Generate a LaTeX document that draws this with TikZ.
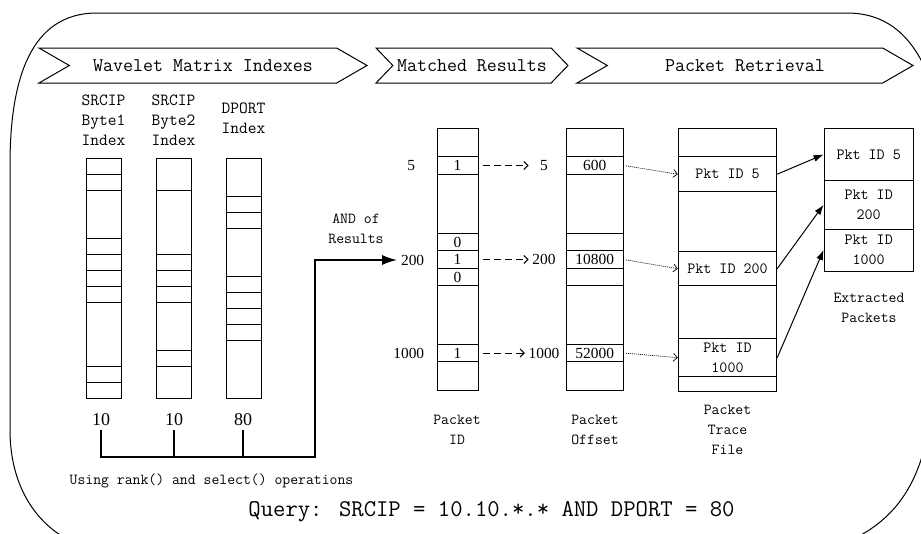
\documentclass[tikz,border=0pt]{standalone}
\usepackage{fontspec}
\setmainfont{Liberation Serif}
\usetikzlibrary{positioning, arrows.meta, shapes.symbols}

\begin{document}
\begin{tikzpicture}[
  x=1pt, y=-1pt, line width=1pt,
  banner/.style={draw, signal, signal from=west, signal to=east, minimum height=35pt,
                 inner sep=0pt, font=\ttfamily\fontsize{19.4}{22}\selectfont},
  hdr/.style={align=center, font=\ttfamily\fontsize{17}{20}\selectfont},
  lbl/.style={align=center, font=\ttfamily\fontsize{15.3}{20}\selectfont},
  val/.style={font=\fontsize{18}{20}\selectfont},
  rnum/.style={font=\fontsize{15.4}{18}\selectfont},
  idx/.style={draw, inner sep=0pt, minimum width=35pt, minimum height=240pt},
  col/.style={draw, inner sep=0pt},
  cell/.style={draw, inner sep=0pt, align=center, font=\fontsize{15.4}{18}\selectfont},
  pkt/.style={cell, font=\ttfamily\fontsize{15.6}{20}\selectfont},
  bus/.style={line width=2pt, -{Latex[length=15pt,width=10pt]}},
  dasharr/.style={dash pattern=on 7pt off 4pt, -{Straight Barb[length=4pt,width=8pt]}},
  dotarr/.style={line width=0.7pt, dash pattern=on 1pt off 1pt, -{Straight Barb[length=4pt,width=8pt]}},
  solarr/.style={line width=1pt, -{Latex[length=10pt,width=7pt]}}
]
\useasboundingbox (0,0) rectangle (921,533);
% outer frame
\begin{scope}
\clip (0,0) rectangle (921,533);
\draw (97,13) -- (847,13) .. controls (890,13) and (915,40) .. (930,80) -- (930,420)
  .. controls (920,490) and (890,525) .. (840,545) -- (80,545)
  .. controls (40,530) and (10,490) .. (10,430) -- (10,165)
  .. controls (10,80) and (30,13) .. (97,13) -- cycle;
\end{scope}

% stage banners
\node[banner, minimum width=328pt, signal pointer angle=60] (wm) at (203,65.5) {Wavelet Matrix Indexes};
\node[banner, minimum width=192pt, signal pointer angle=92] (mr) at (472,65.5) {Matched Results};
\node[banner, minimum width=336pt, signal pointer angle=60] (pr) at (745,65.5) {Packet Retrieval};

% wavelet matrix index columns
\node[hdr] (h1) at (103.5,120) {SRCIP\\Byte1\\Index};
\node[hdr] (h2) at (173.5,120) {SRCIP\\Byte2\\Index};
\node[hdr] (h3) at (243.5,118) {DPORT\\Index};
\node[idx] (c1) at (103.5,278) {};
\node[idx] (c2) at (173.5,278) {};
\node[idx] (c3) at (243.5,278) {};
\foreach \c/\ys in {c1/{174,190,238,254,270,286,302,366,382},
                    c2/{190,254,270,286,302,350,366},
                    c3/{196,212,228,276,292,308,324,340}}{
  \foreach \y in \ys
    \draw (\c.west |- 0,\y) -- (\c.east |- 0,\y);
}
\node[val] (v1) at (101,420) {10};
\node[val] (v2) at (174,420) {10};
\node[val] (v3) at (243,420) {80};

% packet id and offset columns
\node[col, minimum width=41pt, minimum height=262pt] (pid) at (457.5,259) {};
\node[col, minimum width=57.3pt, minimum height=262pt] (poff) at (594.7,259) {};
\foreach \y/\h/\a/\b/\n in {165.5/17.6/1/600/5, 242.3/16.7/0//z1, 259.5/17.6/1/10800/200,
                            277/17.4/0//z2, 353/17.4/1/52000/1000}{
  \node[cell, minimum width=41pt, minimum height=\h pt] (id\n) at (457.5,\y) {\a};
  \node[cell, minimum width=57.3pt, minimum height=\h pt] (off\n) at (594.7,\y) {\b};
}
\node[rnum, anchor=east] (l5) at (419,165.5) {5};
\node[rnum, anchor=east] (l200) at (428,260) {200};
\node[rnum, anchor=east] (l1000) at (428,353) {1000};
\node[rnum, minimum width=30pt] (o5) at (544,165.5) {5};
\node[rnum, minimum width=30pt] (o200) at (544,259.5) {200};
\node[rnum, minimum width=30pt] (o1000) at (544,353) {1000};
\node[lbl] (and) at (356,229) {AND of\\Results};

% packet trace file and extracted packets
\node[col, minimum width=98.4pt, minimum height=262.7pt] (ptf) at (727.5,259.7) {};
\node[pkt, minimum width=98.4pt, minimum height=35pt] (pk5) at (727.5,174.2) {Pkt ID 5};
\node[pkt, minimum width=98.4pt, minimum height=34pt] (pk200) at (727.5,268.7) {Pkt ID 200};
\node[pkt, minimum width=98.4pt, minimum height=38pt] (pk1000) at (727.5,357.7) {Pkt ID\\1000};
\node[pkt, minimum width=89.3pt, minimum height=52.4pt] (e5) at (868.7,154.5) {Pkt ID 5};
\node[pkt, minimum width=89.3pt, minimum height=48.3pt] (e200) at (868.7,204.85) {Pkt ID\\200};
\node[pkt, minimum width=89.3pt, minimum height=42pt] (e1000) at (868.7,250) {Pkt ID\\1000};

% captions
\node[lbl] (tpid) at (457,430) {Packet\\ID};
\node[lbl] (tpoff) at (595,430) {Packet\\Offset};
\node[lbl] (tptf) at (727.5,430) {Packet\\Trace\\File};
\node[lbl] (text) at (869,308) {Extracted\\Packets};
\node[lbl] (ops) at (211.5,481) {Using rank() and select() operations};
\node[font=\ttfamily\fontsize{24}{26}\selectfont] (qry) at (491.5,512) {Query: SRCIP = 10.10.*.* AND DPORT = 80};

% connectors
\coordinate (bend) at (315,457);
\draw[bus] (v1.south) |- (bend) |- (l200.west);
\draw[line width=2pt] (v2.south) -- (v2.south |- bend);
\draw[line width=2pt] (v3.south) -- (v3.south |- bend);
\foreach \n in {5,200,1000}{
  \draw[dasharr, shorten <=4.5pt] (id\n.east) -- (o\n.west);
  \draw[dotarr, shorten <=2pt] (off\n.east) -- (pk\n.west);
  \draw[solarr] (pk\n.east) -- (e\n.west);
}
\end{tikzpicture}
\end{document}
